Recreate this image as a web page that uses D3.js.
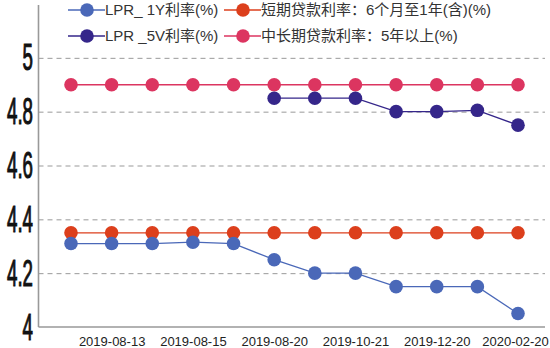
<html>
<head>
<meta charset="utf-8">
<script src="https://d3js.org/d3.v7.min.js"></script>
<style>
  body { margin: 0; background: #fff; }
  .gridlines .domain { display: none; }
  .gridlines line { stroke: #999; stroke-dasharray: 5 4; }
</style>
</head>
<body>
<svg id="graph" width="550" height="348"></svg>
<script>
// categories along the bottom, only every other one gets a label
const dates = ["2019-08-12", "2019-08-13", "2019-08-14", "2019-08-15", "2019-08-16", "2019-08-20",
               "2019-09-20", "2019-10-21", "2019-11-20", "2019-12-20", "2020-01-20", "2020-02-20"];
const shownDates = ["2019-08-13", "2019-08-15", "2019-08-20", "2019-10-21", "2019-12-20", "2020-02-20"];
const yTicks = [4, 4.2, 4.4, 4.6, 4.8, 5];

// series values (null = no point)
const lpr1y   = [4.31, 4.31, 4.31, 4.315, 4.31, 4.25, 4.20, 4.20, 4.15, 4.15, 4.15, 4.05];
const lpr5y   = [null, null, null, null, null, 4.85, 4.85, 4.85, 4.80, 4.80, 4.805, 4.75];
const shortRate = [4.35, 4.35, 4.35, 4.35, 4.35, 4.35, 4.35, 4.35, 4.35, 4.35, 4.35, 4.35];
const longRate  = [4.90, 4.90, 4.90, 4.90, 4.90, 4.90, 4.90, 4.90, 4.90, 4.90, 4.90, 4.90];

const seriesNames = ["LPR_ 1Y利率(%)", "短期贷款利率：6个月至1年(含)(%)", "LPR _5V利率(%)", "中长期贷款利率：5年以上(%)"];
const colors = ["#4a68b8", "#dc3f1c", "#35268a", "#dc3560"];

const svg = d3.select("#graph");
const plotLeft = 38.5, plotRight = 545, plotTop = 4, plotBottom = 327;

const xScale = d3.scalePoint().domain(dates).range([71, 518]);
const yScale = d3.scaleLinear().domain([4, 5.2]).range([plotBottom, plotTop]);

// dashed gridlines
svg.append("g")
   .attr("class", "gridlines")
   .attr("transform", `translate(${plotLeft},0)`)
   .call(d3.axisLeft(yScale).tickValues(yTicks.filter(v => v > 4)).tickSize(-(plotRight - plotLeft)).tickFormat(""));

// axis lines
svg.append("line").attr("x1", plotLeft).attr("x2", plotLeft).attr("y1", yScale(5.2) + 1).attr("y2", plotBottom)
   .attr("stroke", "#999").attr("stroke-width", 1.6);
svg.append("line").attr("x1", plotLeft).attr("x2", plotRight).attr("y1", plotBottom).attr("y2", plotBottom)
   .attr("stroke", "#999").attr("stroke-width", 1.6);

// big condensed y labels
svg.selectAll(".ylab")
   .data(yTicks)
   .join("text")
   .attr("class", "ylab")
   .attr("transform", d => `translate(33,${yScale(d) + 12.5}) scale(0.52,1)`)
   .attr("text-anchor", "end")
   .attr("font-family", "Liberation Sans, Arial, sans-serif")
   .attr("font-size", 36)
   .attr("fill", "#111")
   .attr("stroke", "#111")
   .attr("stroke-width", 1.1)
   .text(d => d);

// x labels
const xAxis = svg.append("g")
   .attr("transform", `translate(0,${plotBottom})`)
   .call(d3.axisBottom(xScale).tickValues(shownDates).tickSize(0).tickPadding(9));
xAxis.select(".domain").remove();
xAxis.selectAll("text")
   .attr("font-family", "Liberation Sans, Arial, sans-serif")
   .attr("font-size", 13)
   .attr("fill", "#222")
   .attr("dy", "0.75em")
   .attr("dx", (d, i) => i === shownDates.length - 1 ? -3 : 0);

// series, drawn red then blue, pink then purple (for overlap order)
const drawOrder = [1, 0, 3, 2];
const allSeries = [lpr1y, shortRate, lpr5y, longRate];

const lineGen = d3.line()
   .defined(d => d.v != null)
   .x(d => xScale(d.date))
   .y(d => yScale(d.v));

drawOrder.forEach(i => {
  const pts = dates.map((date, j) => ({ date: date, v: allSeries[i][j] }));
  const g = svg.append("g");
  g.append("path")
   .attr("d", lineGen(pts))
   .attr("fill", "none")
   .attr("stroke", colors[i])
   .attr("stroke-width", 1.3);
  g.selectAll("circle")
   .data(pts.filter(d => d.v != null))
   .join("circle")
   .attr("cx", d => xScale(d.date))
   .attr("cy", d => yScale(d.v))
   .attr("r", 6.8)
   .attr("fill", colors[i]);
});

// legend (2 x 2)
const legendPos = [[87, 10], [243, 10], [87, 36], [243, 36]];
seriesNames.forEach((name, i) => {
  const [cx, cy] = legendPos[i];
  const lg = svg.append("g");
  lg.append("line").attr("x1", cx - 19).attr("x2", cx + 18).attr("y1", cy).attr("y2", cy)
    .attr("stroke", colors[i]).attr("stroke-width", 1.3);
  lg.append("circle").attr("cx", cx).attr("cy", cy).attr("r", 6.8).attr("fill", colors[i]);
  lg.append("text")
    .attr("x", cx + 18)
    .attr("y", cy)
    .attr("dy", "0.36em")
    .attr("font-family", "Liberation Sans, Noto Sans CJK SC, sans-serif")
    .attr("font-size", 15)
    .attr("fill", "#333")
    .text(name);
});
</script>
</body>
</html>
